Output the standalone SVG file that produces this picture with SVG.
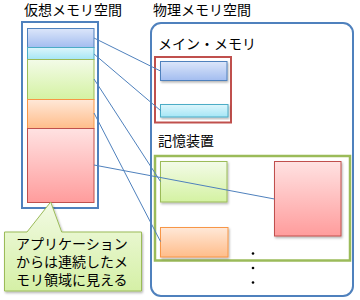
<svg xmlns="http://www.w3.org/2000/svg" width="360" height="300" viewBox="0 0 360 300">
<defs>
<linearGradient id="gBlue" x1="0" y1="0" x2="0" y2="1"><stop offset="0" stop-color="#DCE6FA"/><stop offset="1" stop-color="#A3BDF0"/></linearGradient>
<linearGradient id="gCyan" x1="0" y1="0" x2="0" y2="1"><stop offset="0" stop-color="#DDF6FC"/><stop offset="1" stop-color="#A5E6F6"/></linearGradient>
<linearGradient id="gGreen" x1="0" y1="0" x2="0" y2="1"><stop offset="0" stop-color="#F3FBE8"/><stop offset="1" stop-color="#D4F2A2"/></linearGradient>
<linearGradient id="gOrange" x1="0" y1="0" x2="0" y2="1"><stop offset="0" stop-color="#FFE8D8"/><stop offset="1" stop-color="#FFBD8A"/></linearGradient>
<linearGradient id="gRed" x1="0" y1="0" x2="0" y2="1"><stop offset="0" stop-color="#FFE2E2"/><stop offset="1" stop-color="#FF9C9C"/></linearGradient>
<linearGradient id="gCallout" x1="0" y1="0" x2="0" y2="1"><stop offset="0" stop-color="#F2FAE4"/><stop offset="1" stop-color="#D5F0A6"/></linearGradient>
<filter id="sh" x="-10%" y="-10%" width="130%" height="130%"><feDropShadow dx="1" dy="1.5" stdDeviation="0.8" flood-color="#000" flood-opacity="0.3"/></filter>
</defs>
<style>
text{font-family:"Noto Sans CJK JP","Noto Sans CJK SC",sans-serif;font-size:14px;fill:#000}
.blk{stroke-width:1}
.b{fill:url(#gBlue);stroke:#4F81BD}
.c{fill:url(#gCyan);stroke:#4BACC6}
.g{fill:url(#gGreen);stroke:#9BBB59}
.o{fill:url(#gOrange);stroke:#F79646}
.r{fill:url(#gRed);stroke:#C0504D}
.conn{stroke:#4F81BD;stroke-width:1;fill:none}
</style>
<text x="24" y="15">仮想メモリ空間</text>
<text x="153" y="15">物理メモリ空間</text>
<g id="virtual">
<rect x="22" y="22" width="76" height="186" fill="#fff" stroke="#4F81BD" stroke-width="2"/>
<rect class="blk b" x="27.5" y="28.5" width="66.5" height="19"/>
<rect class="blk c" x="27.5" y="47.5" width="66.5" height="12"/>
<rect class="blk g" x="27.5" y="59.5" width="66.5" height="40"/>
<rect class="blk o" x="27.5" y="99.5" width="66.5" height="29"/>
<rect class="blk r" x="27.5" y="128.5" width="66.5" height="74"/>
</g>
<g id="physical">
<rect x="151" y="23" width="202" height="273" rx="10" fill="#fff" stroke="#4F81BD" stroke-width="2"/>
<text x="158" y="49">メイン・メモリ</text>
<text x="158" y="146">記憶装置</text>
</g>
<g id="main-memory">
<rect x="155" y="57" width="76" height="65.5" fill="none" stroke="#C0504D" stroke-width="2"/>
<rect class="blk b" x="160.5" y="61.5" width="66.5" height="19" filter="url(#sh)"/>
<rect class="blk c" x="160.5" y="104.5" width="67.5" height="12.5" filter="url(#sh)"/>
</g>
<g id="storage">
<rect x="155" y="156" width="195" height="104.5" fill="none" stroke="#9BBB59" stroke-width="2.5"/>
<rect class="blk g" x="160.5" y="161.5" width="66.5" height="40.5" filter="url(#sh)"/>
<rect class="blk o" x="160.5" y="227.5" width="67.5" height="29.5" filter="url(#sh)"/>
<rect class="blk r" x="274.5" y="161.5" width="66.5" height="74.5" filter="url(#sh)"/>
<circle cx="253" cy="253.5" r="1.3" fill="#000"/>
<circle cx="253" cy="268" r="1.3" fill="#000"/>
<circle cx="253" cy="282.5" r="1.3" fill="#000"/>
</g>
<g id="connectors">
<line class="conn" x1="94" y1="38" x2="160.5" y2="71"/>
<line class="conn" x1="94" y1="54" x2="160.5" y2="110.5"/>
<line class="conn" x1="94" y1="79" x2="160.5" y2="181.5"/>
<line class="conn" x1="94" y1="113" x2="160.5" y2="241.5"/>
<line class="conn" x1="94" y1="165" x2="274.5" y2="199"/>
</g>
<g id="callout">
<path d="M4.5 232 H27 L50.7 202 L61.7 232 H141.5 V291 H4.5 Z" fill="url(#gCallout)" stroke="#9BBB59" stroke-width="1" filter="url(#sh)"/>
<text x="16" y="249">アプリケーション</text>
<text x="16" y="267">からは連続したメ</text>
<text x="16" y="285">モリ領域に見える</text>
</g>
</svg>
